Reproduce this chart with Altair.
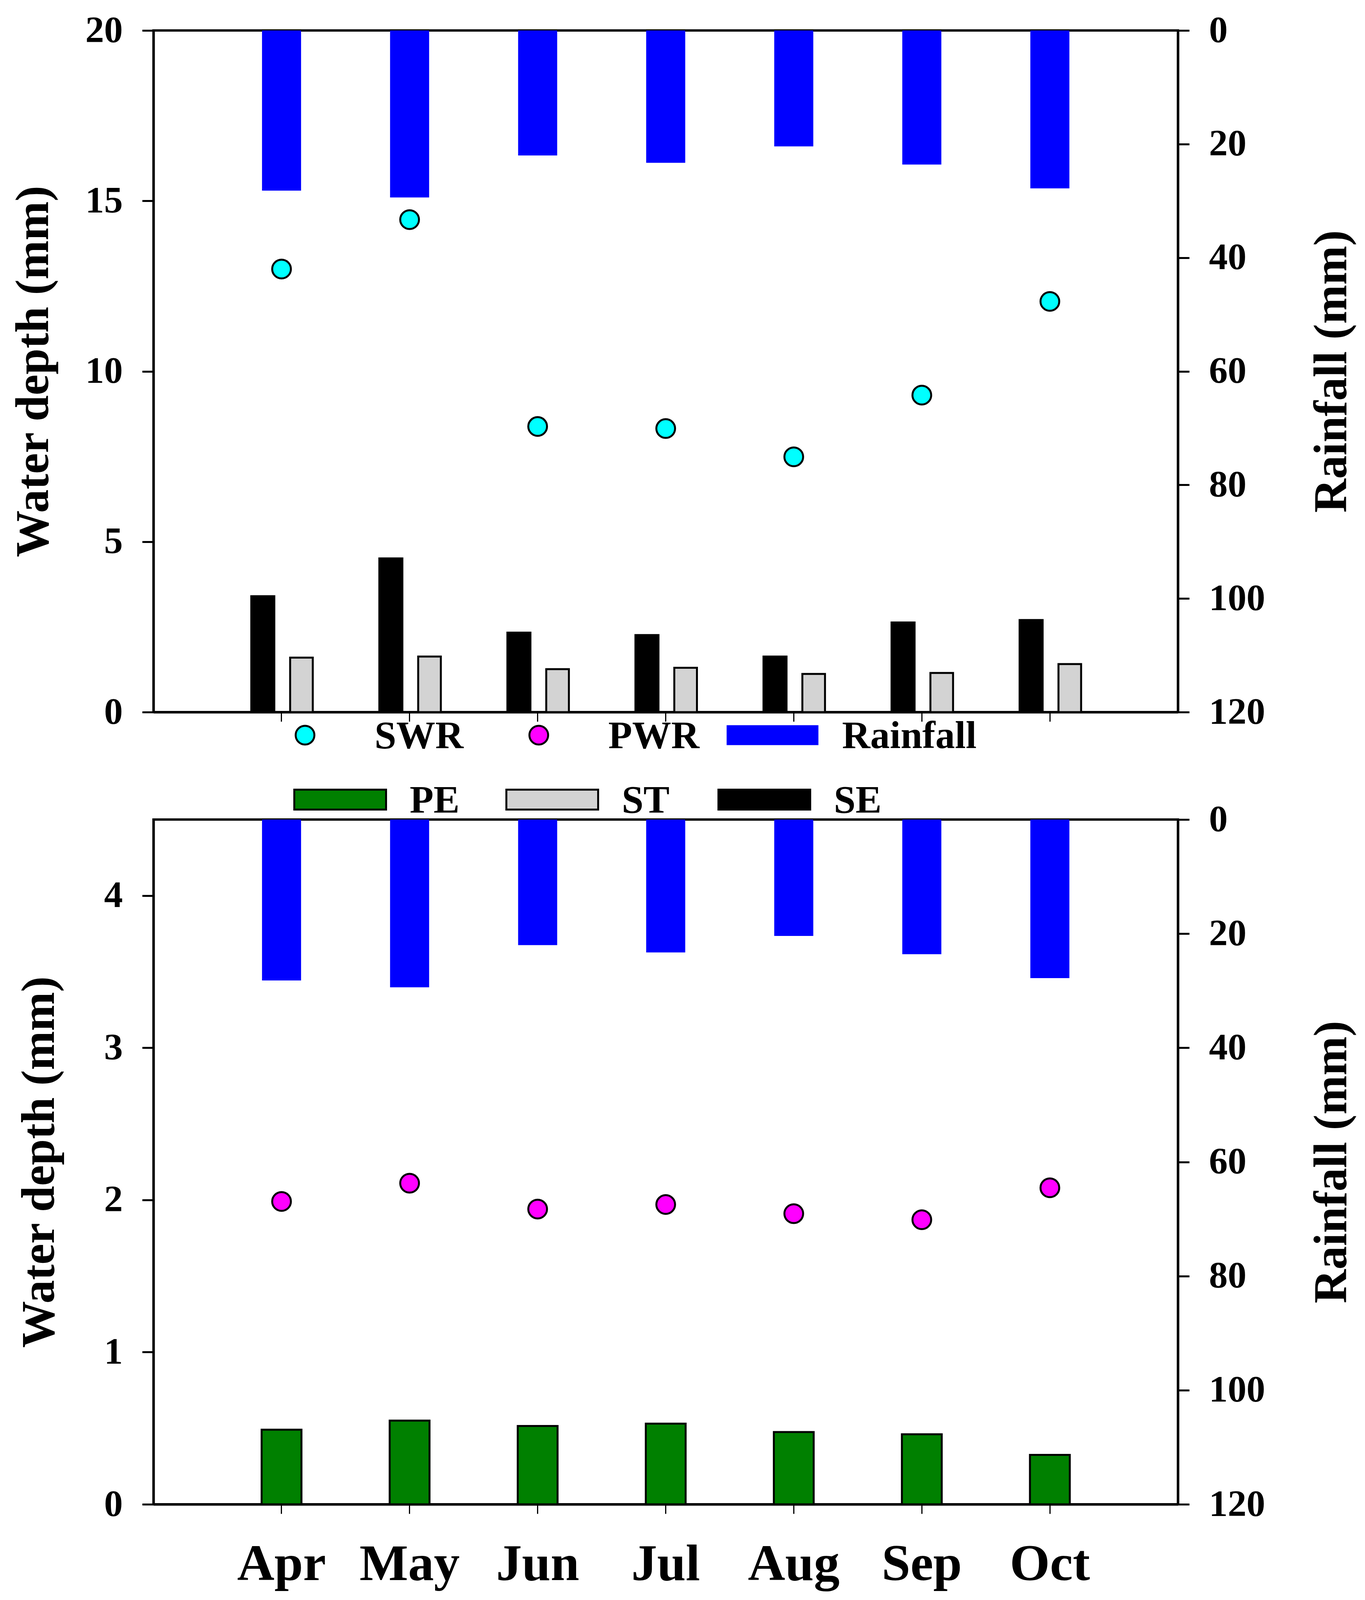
import altair as alt
import pandas as pd

months = ["Apr", "May", "Jun", "Jul", "Aug", "Sep", "Oct"]
rainfall = [28.2, 29.4, 22.0, 23.3, 20.4, 23.6, 27.8]
swr = [13.0, 14.45, 8.38, 8.32, 7.49, 9.3, 12.05]
se = [3.43, 4.54, 2.36, 2.29, 1.66, 2.66, 2.73]
st = [1.60, 1.63, 1.26, 1.30, 1.12, 1.15, 1.41]
pwr = [1.99, 2.11, 1.94, 1.97, 1.91, 1.87, 2.08]
pe = [0.49, 0.55, 0.515, 0.53, 0.475, 0.46, 0.325]

series_names = ["SWR", "PWR", "Rainfall", "PE", "ST", "SE"]
series_colors = ["#00FFFF", "#FF00FF", "#0000FF", "#008000", "#D3D3D3", "#000000"]
legend_row1 = ["SWR", "PWR", "Rainfall"]
legend_row2 = ["PE", "ST", "SE"]
circle_items = ["SWR", "PWR"]
left_ticks_top = [0, 5, 10, 15, 20]
left_ticks_bottom = [0, 1, 2, 3, 4]
rain_ticks = [0, 20, 40, 60, 80, 100, 120]

FONT = "Liberation Serif"
W = 2623
H_TOP = 1745
H_LEG = 275
H_BOT = 1753
BOX = "M-1,-0.217H1V0.217H-1Z"


def frame(values, name):
    return pd.DataFrame({"month": months, "value": values, "series": name})


fill_scale = alt.Scale(domain=series_names, range=series_colors)
fill_enc = alt.Fill("series:N", scale=fill_scale, legend=None)


def x_enc(show_labels):
    return alt.X(
        "month:N",
        title=None,
        scale=alt.Scale(type="band", domain=months, paddingInner=0, paddingOuter=0.5),
        axis=alt.Axis(labels=show_labels, ticks=True, tickSize=24, tickWidth=3,
                      domainWidth=6, labelFontSize=132, labelPadding=65, labelAngle=0,
                      labelLimit=1000),
    )


def rain_layer(show_labels):
    return alt.Chart(frame(rainfall, "Rainfall")).mark_bar(size=100).encode(
        x=x_enc(show_labels),
        y=alt.Y("value:Q",
                scale=alt.Scale(domain=[0, 120], reverse=True, nice=False),
                axis=alt.Axis(orient="right", values=rain_ticks, title="Rainfall (mm)",
                              titleAngle=270, titleBaseline="top", titlePadding=135)),
        fill=fill_enc,
    )


def water_y(domain, ticks, pad):
    return alt.Y("value:Q", scale=alt.Scale(domain=domain, nice=False),
                 axis=alt.Axis(orient="left", values=ticks, title="Water depth (mm)",
                               titlePadding=pad))


# ---------- top panel ----------
yt = water_y([0, 20], left_ticks_top, 71)
se_layer = alt.Chart(frame(se, "SE")).mark_bar(size=64, xOffset=-48).encode(
    x=x_enc(False), y=yt, fill=fill_enc)
st_layer = alt.Chart(frame(st, "ST")).mark_bar(
    size=58, xOffset=51, stroke="black", strokeWidth=5).encode(
    x=x_enc(False), y=yt, fill=fill_enc)
swr_layer = alt.Chart(frame(swr, "SWR")).mark_point(
    shape="circle", filled=True, size=2300, stroke="black", strokeWidth=5, opacity=1).encode(
    x=x_enc(False), y=yt, fill=fill_enc)

top = alt.layer(rain_layer(False), alt.layer(se_layer, st_layer, swr_layer)).resolve_scale(
    y="independent").properties(width=W, height=H_TOP)

# ---------- legend panel ----------
leg_df = pd.DataFrame({
    "name": legend_row1 + legend_row2,
    "row": ["row1"] * len(legend_row1) + ["row2"] * len(legend_row2),
})
y_leg = alt.Y("row:N", scale=alt.Scale(type="point", domain=["row1", "row2"],
                                       range=[59, 224], padding=0), axis=None)
x_r1 = alt.X("name:N", scale=alt.Scale(type="point", domain=legend_row1,
                                       range=[388, 1585], padding=0), axis=None)
x_r2 = alt.X("name:N", scale=alt.Scale(type="point", domain=legend_row2,
                                       range=[478, 1564], padding=0), axis=None)

text_props = dict(align="left", baseline="alphabetic", dx=178, dy=33, font=FONT,
                  fontWeight="bold", fontSize=100, color="black")

r1 = alt.Chart(leg_df).transform_filter(
    alt.FieldOneOfPredicate(field="name", oneOf=legend_row1))
r1_circ = r1.transform_filter(
    alt.FieldOneOfPredicate(field="name", oneOf=circle_items)).mark_point(
    shape="circle", filled=True, size=2300, stroke="black", strokeWidth=5, opacity=1).encode(
    x=x_r1, y=y_leg, fill=alt.Fill("name:N", scale=fill_scale, legend=None))
r1_box = r1.transform_filter(
    alt.FieldOneOfPredicate(field="name", oneOf=["Rainfall"])).mark_point(
    shape=BOX, filled=True, size=55225, strokeWidth=0, opacity=1).encode(
    x=x_r1, y=y_leg, fill=alt.Fill("name:N", scale=fill_scale, legend=None))
r1_txt = r1.mark_text(**text_props).encode(x=x_r1, y=y_leg, text="name:N")
row1 = alt.layer(r1_circ, r1_box, r1_txt)

r2 = alt.Chart(leg_df).transform_filter(
    alt.FieldOneOfPredicate(field="name", oneOf=legend_row2))
r2_box = r2.mark_point(shape=BOX, filled=True, size=55225, stroke="black", strokeWidth=5,
                       opacity=1).encode(
    x=x_r2, y=y_leg, fill=alt.Fill("name:N", scale=fill_scale, legend=None))
r2_txt = r2.mark_text(**text_props).encode(x=x_r2, y=y_leg, text="name:N")
row2 = alt.layer(r2_box, r2_txt)

legend_panel = alt.layer(row1, row2).resolve_scale(x="independent").properties(
    width=W, height=H_LEG, view=alt.ViewBackground(stroke="transparent"))

# ---------- bottom panel ----------
yb = water_y([0, 4.5], left_ticks_bottom, 104)
pe_layer = alt.Chart(frame(pe, "PE")).mark_bar(size=102, stroke="black", strokeWidth=5).encode(
    x=x_enc(True), y=yb, fill=fill_enc)
pwr_layer = alt.Chart(frame(pwr, "PWR")).mark_point(
    shape="circle", filled=True, size=2300, stroke="black", strokeWidth=5, opacity=1).encode(
    x=x_enc(True), y=yb, fill=fill_enc)

bottom = alt.layer(rain_layer(True), alt.layer(pe_layer, pwr_layer)).resolve_scale(
    y="independent").properties(width=W, height=H_BOT)

chart = alt.vconcat(top, legend_panel, bottom, spacing=0, bounds="flush").properties(
    padding={"left": 15, "top": 19, "right": 5, "bottom": 5}
).configure_axis(
    domainColor="black", domainWidth=6, tickColor="black", tickWidth=5, tickSize=29,
    labelFont=FONT, labelFontWeight="bold", labelFontSize=96, labelColor="black",
    labelPadding=50, labelLimit=1000, titleFont=FONT, titleFontWeight="bold",
    titleFontSize=120, titleColor="black", grid=False,
).configure_view(stroke="black", strokeWidth=6)

chart.save("out.html", embed_options={"renderer": "svg", "actions": False})
